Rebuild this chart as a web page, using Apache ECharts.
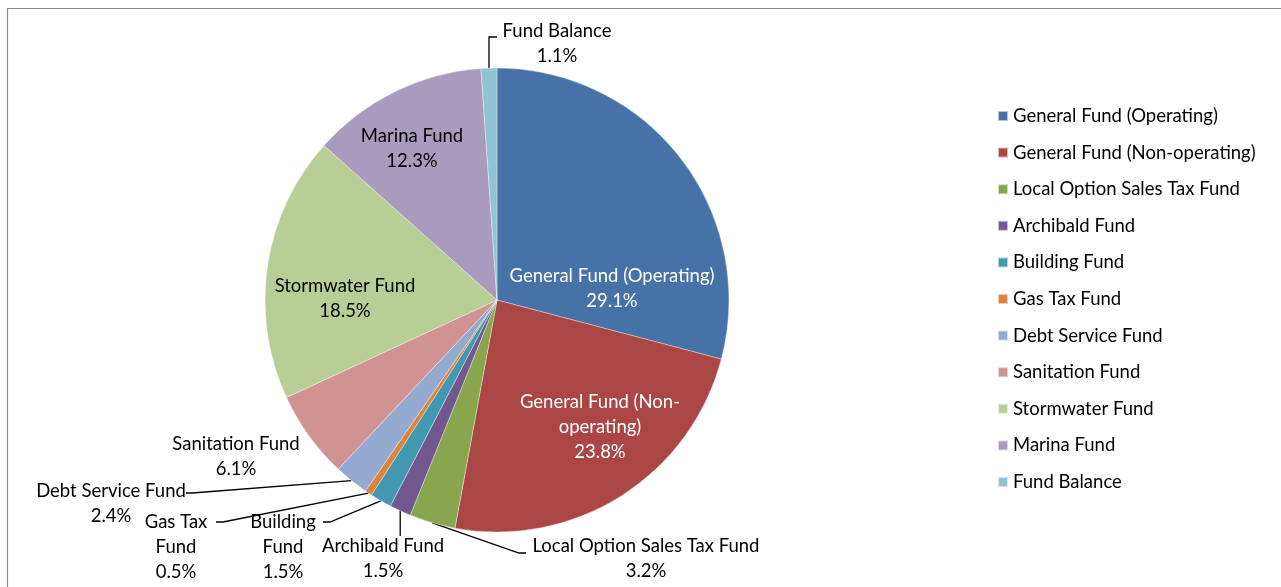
<!DOCTYPE html>
<html>
<head>
<meta charset="utf-8">
<title>Fund Distribution</title>
<script src="https://cdn.jsdelivr.net/npm/echarts@6/dist/echarts.min.js"></script>
<style>
  html, body { margin: 0; padding: 0; background: #fff; }
  #chart { width: 1281px; height: 587px; }
</style>
</head>
<body>
<div id="chart"></div>
<script>
// Fund names in legend order (clockwise from 12 o'clock)
const categories = [
  'General Fund (Operating)',
  'General Fund (Non-operating)',
  'Local Option Sales Tax Fund',
  'Archibald Fund',
  'Building Fund',
  'Gas Tax Fund',
  'Debt Service Fund',
  'Sanitation Fund',
  'Stormwater Fund',
  'Marina Fund',
  'Fund Balance'
];

// Share of the total, in percent
const shares = [29.1, 23.8, 3.2, 1.5, 1.5, 0.5, 2.4, 6.1, 18.5, 12.3, 1.1];

// Slice fills
const sliceColors = [
  '#4672A8', '#AA4644', '#89A54E', '#71598F', '#4198AF', '#DB843D',
  '#93A9D0', '#D19392', '#B9CD97', '#A99BBD', '#92C3D4'
];

// Wrapped label names where the label is drawn on several lines
const labelNames = categories.map(function (n) {
  if (n === 'General Fund (Non-operating)') return 'General Fund (Non-\noperating)';
  if (n === 'Building Fund') return 'Building\nFund';
  if (n === 'Gas Tax Fund') return 'Gas Tax\nFund';
  return n;
});

// Where each data label sits, and how its leader line is bent
const labelSpots = [
  { x: 612, y: 288, inside: true, color: '#ffffff' },
  { x: 600, y: 426, inside: true, color: '#ffffff' },
  { x: 646, y: 558, bend: [519, 553], end: [526, 553] },
  { x: 383, y: 558, drop: 536 },
  { x: 283, y: 546, bend: [330, 522], end: [323, 522] },
  { x: 176, y: 546, bend: [223, 522], end: [216, 522] },
  { x: 111, y: 503, bend: [192, 493], end: [186, 493] },
  { x: 236, y: 456, noLine: true },
  { x: 345, y: 298, inside: true },
  { x: 412, y: 148, inside: true },
  { x: 557, y: 43, rise: 37, end: [497, 37] }
];

const FONT = 'Lato, "Open Sans", "Liberation Sans", sans-serif';
const FONT_SIZE = 18.5;

const seriesData = categories.map(function (name, i) {
  const spot = labelSpots[i];
  return {
    name: name,
    value: shares[i],
    itemStyle: { color: sliceColors[i] },
    label: {
      position: spot.inside ? 'inside' : 'outside',
      color: spot.color || '#000000'
    },
    labelLine: { show: !(spot.inside || spot.noLine) }
  };
});

const chart = echarts.init(document.getElementById('chart'), null, { renderer: 'canvas' });

chart.setOption({
  backgroundColor: '#ffffff',
  animation: false,
  textStyle: { fontFamily: FONT },
  graphic: [{
    type: 'rect',
    silent: true,
    shape: { x: 7.5, y: 8.5, width: 1400, height: 700 },
    style: { fill: null, stroke: '#8a8a8a', lineWidth: 1.2 }
  }],
  legend: {
    orient: 'vertical',
    left: 997,
    top: 106,
    padding: 0,
    icon: 'rect',
    itemWidth: 10,
    itemHeight: 10,
    itemGap: 16.6,
    selectedMode: false,
    textStyle: { fontFamily: FONT, fontSize: FONT_SIZE, color: '#000000', lineHeight: 20 },
    data: categories
  },
  series: [{
    type: 'pie',
    center: [497, 300],
    radius: 232,
    startAngle: 90,
    clockwise: true,
    avoidLabelOverlap: false,
    itemStyle: { borderColor: 'rgba(255,255,255,0.6)', borderWidth: 0.6 },
    emphasis: { disabled: true },
    label: {
      show: true,
      fontFamily: FONT,
      fontSize: FONT_SIZE,
      lineHeight: 25,
      align: 'center',
      formatter: function (p) {
        return labelNames[p.dataIndex] + '\n' + p.value.toFixed(1) + '%';
      }
    },
    labelLine: {
      show: true,
      length: 20,
      length2: 10,
      lineStyle: { color: '#000000', width: 1.3 }
    },
    labelLayout: function (p) {
      const spot = labelSpots[p.dataIndex];
      const out = { x: spot.x, y: spot.y + 1, align: 'center', verticalAlign: 'middle' };
      const pts = p.labelLinePoints;
      if (pts && !spot.inside && !spot.noLine) {
        const start = pts[0];
        if (spot.drop != null) {
          out.labelLinePoints = [start, [start[0], spot.drop], [start[0], spot.drop]];
        } else if (spot.rise != null) {
          out.labelLinePoints = [start, [start[0], spot.rise], spot.end];
        } else {
          out.labelLinePoints = [start, spot.bend, spot.end];
        }
      }
      return out;
    },
    data: seriesData
  }]
});
</script>
</body>
</html>
